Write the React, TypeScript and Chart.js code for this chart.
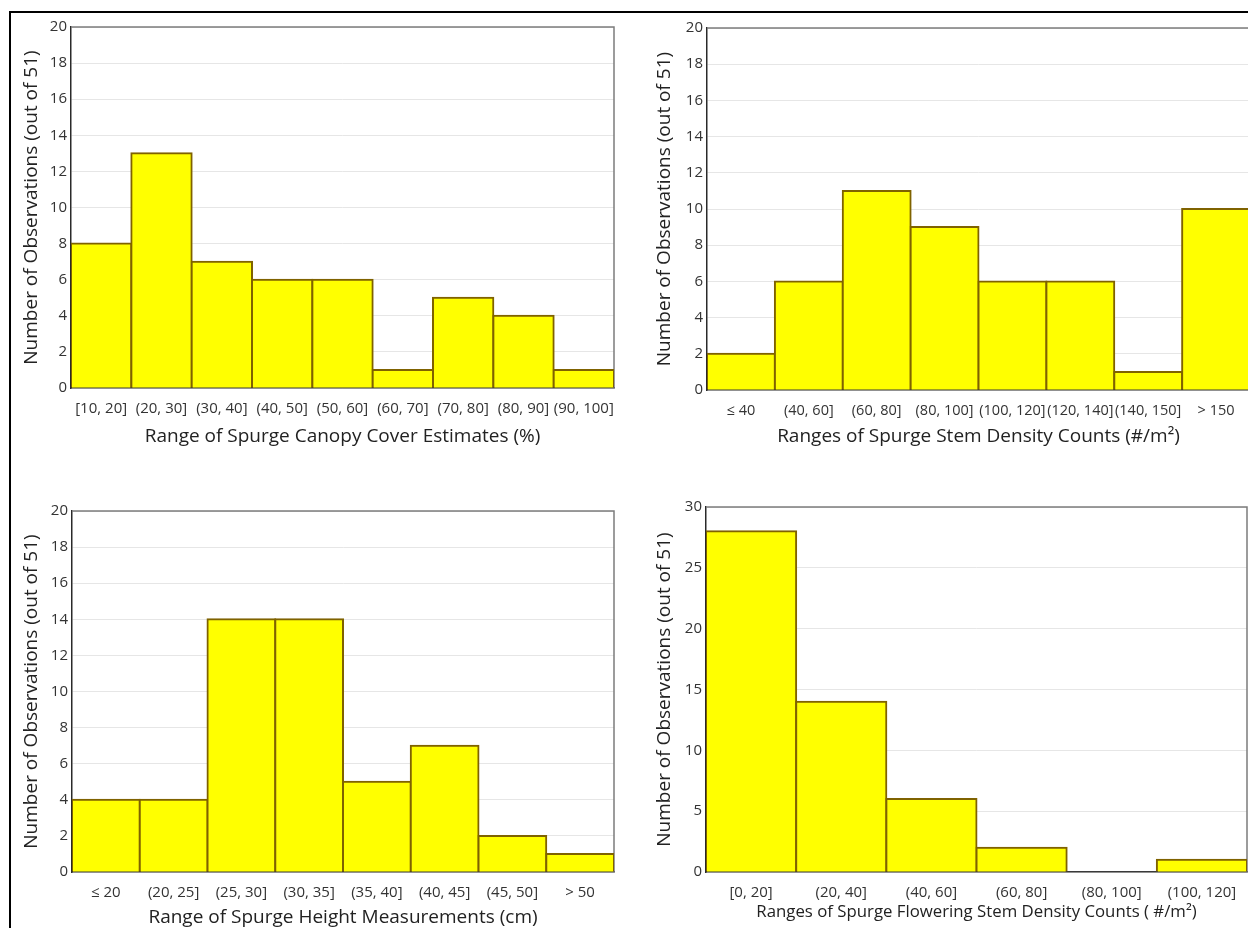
import React, { useEffect, useRef } from "react";
import { Chart, registerables } from "chart.js";

Chart.register(...registerables);

const yAxisTitle = "Number of Observations (out of 51)";

const canopyLabels = ["[10, 20]", "(20, 30]", "(30, 40]", "(40, 50]", "(50, 60]", "(60, 70]", "(70, 80]", "(80, 90]", "(90, 100]"];
const canopyCounts = [8, 13, 7, 6, 6, 1, 5, 4, 1];
const canopyTitle = "Range of Spurge Canopy Cover Estimates (%)";

const stemLabels = ["≤ 40", "(40, 60]", "(60, 80]", "(80, 100]", "(100, 120]", "(120, 140]", "(140, 150]", "> 150"];
const stemCounts = [2, 6, 11, 9, 6, 6, 1, 10];
const stemTitle = "Ranges of Spurge Stem Density Counts (#/m²)";

const heightLabels = ["≤ 20", "(20, 25]", "(25, 30]", "(30, 35]", "(35, 40]", "(40, 45]", "(45, 50]", "> 50"];
const heightCounts = [4, 4, 14, 14, 5, 7, 2, 1];
const heightTitle = "Range of Spurge Height Measurements (cm)";

const flowerLabels = ["[0, 20]", "(20, 40]", "(40, 60]", "(60, 80]", "(80, 100]", "(100, 120]"];
const flowerCounts = [28, 14, 6, 2, 0, 1];
const flowerTitle = "Ranges of Spurge Flowering Stem Density Counts ( #/m²)";

const FONT = "'Open Sans', 'Noto Sans', sans-serif";

type Box = { x: number; y: number; w: number; h: number };
type Area = { left: number; top: number; right: number; bottom: number };

type PanelProps = {
  labels: string[];
  values: number[];
  yMax: number;
  yStep: number;
  xTitle: string;
  xTitleSize: number;
  xTitlePadBottom: number;
  xTickPad: number;
  xTickSize: number;
  yTitlePadTop: number;
  box: Box;
  area: Area;
};

function Panel(p: PanelProps) {
  const ref = useRef<HTMLCanvasElement>(null);
  useEffect(() => {
    if (!ref.current) return;
    const frame = {
      id: "frame",
      beforeDatasetsDraw(chart: any) {
        const { ctx, chartArea: a } = chart;
        ctx.save();
        ctx.strokeStyle = "#7c7c7c";
        ctx.lineWidth = 1.5;
        ctx.beginPath();
        ctx.moveTo(a.left, a.top);
        ctx.lineTo(a.right, a.top);
        ctx.lineTo(a.right, a.bottom);
        ctx.stroke();
        ctx.restore();
      },
    };
    const chart = new Chart(ref.current, {
      type: "bar",
      data: {
        labels: p.labels,
        datasets: [
          {
            data: p.values,
            backgroundColor: "#ffff00",
            borderColor: "#7f6200",
            borderWidth: 2,
            inflateAmount: (c: any) => (c.raw === 0 ? 0 : 1),
            barPercentage: 1,
            categoryPercentage: 1,
          },
        ],
      },
      options: {
        responsive: false,
        animation: false,
        events: [],
        layout: {
          padding: {
            left: 0,
            bottom: 0,
            top: p.area.top - p.box.y,
            right: p.box.x + p.box.w - p.area.right,
          },
        },
        plugins: { legend: { display: false }, tooltip: { enabled: false } },
        scales: {
          x: {
            offset: true,
            grid: { display: false, drawTicks: false },
            border: { display: true, color: "#3a3a3a", width: 1.5 },
            ticks: {
              font: { family: FONT, size: p.xTickSize },
              color: "#333",
              padding: p.xTickPad,
              maxRotation: 0,
              autoSkip: false,
            },
            title: {
              display: true,
              text: p.xTitle,
              font: { family: FONT, size: p.xTitleSize },
              color: "#222",
              padding: { top: 0, bottom: p.xTitlePadBottom },
            },
            afterFit: (s: any) => {
              s.height = p.box.y + p.box.h - p.area.bottom;
              s.paddingLeft = 0;
              s.paddingRight = 0;
            },
          },
          y: {
            min: 0,
            max: p.yMax,
            grid: { color: "#e6e6e6", drawTicks: false, lineWidth: 1 },
            border: { display: true, color: "#2a2a2a", width: 1.5 },
            ticks: {
              stepSize: p.yStep,
              font: { family: FONT, size: 15 },
              color: "#333",
              padding: 4,
            },
            title: {
              display: true,
              text: yAxisTitle,
              font: { family: FONT, size: 19 },
              color: "#222",
              padding: { top: p.yTitlePadTop, bottom: 0 },
            },
            afterFit: (s: any) => {
              s.width = p.area.left - p.box.x;
              s.paddingTop = 0;
              s.paddingBottom = 0;
            },
          },
        },
      },
      plugins: [frame],
    } as any);
    return () => chart.destroy();
  }, []);
  return (
    <canvas
      ref={ref}
      width={p.box.w}
      height={p.box.h}
      style={{ position: "absolute", left: p.box.x, top: p.box.y, width: p.box.w, height: p.box.h }}
    />
  );
}

export default function App() {
  return (
    <div
      style={{
        position: "fixed",
        left: 0,
        top: 0,
        width: 1248,
        height: 928,
        overflow: "hidden",
        background: "#fff",
      }}
    >
      <div
        style={{
          position: "absolute",
          left: 9,
          top: 11,
          width: 1300,
          height: 1000,
          borderTop: "2px solid #000",
          borderLeft: "2px solid #000",
        }}
      />
      <Panel
        labels={canopyLabels}
        values={canopyCounts}
        yMax={20}
        yStep={2}
        xTitle={canopyTitle}
        xTitleSize={19}
        xTitlePadBottom={16}
        xTickPad={12}
        xTickSize={15}
        yTitlePadTop={8}
        box={{ x: 12, y: 14, w: 612, h: 450 }}
        area={{ left: 71, top: 27, right: 614, bottom: 388 }}
      />
      <Panel
        labels={stemLabels}
        values={stemCounts}
        yMax={20}
        yStep={2}
        xTitle={stemTitle}
        xTitleSize={19}
        xTitlePadBottom={16}
        xTickPad={12}
        xTickSize={14.5}
        yTitlePadTop={13}
        box={{ x: 640, y: 14, w: 620, h: 450 }}
        area={{ left: 707, top: 28, right: 1250, bottom: 390 }}
      />
      <Panel
        labels={heightLabels}
        values={heightCounts}
        yMax={20}
        yStep={2}
        xTitle={heightTitle}
        xTitleSize={19}
        xTitlePadBottom={-1}
        xTickPad={12}
        xTickSize={15}
        yTitlePadTop={8}
        box={{ x: 12, y: 480, w: 612, h: 448 }}
        area={{ left: 72, top: 511, right: 614, bottom: 872 }}
      />
      <Panel
        labels={flowerLabels}
        values={flowerCounts}
        yMax={30}
        yStep={5}
        xTitle={flowerTitle}
        xTitleSize={16.8}
        xTitlePadBottom={6}
        xTickPad={12}
        xTickSize={15}
        yTitlePadTop={13}
        box={{ x: 640, y: 480, w: 620, h: 448 }}
        area={{ left: 706, top: 507, right: 1247, bottom: 872 }}
      />
    </div>
  );
}
